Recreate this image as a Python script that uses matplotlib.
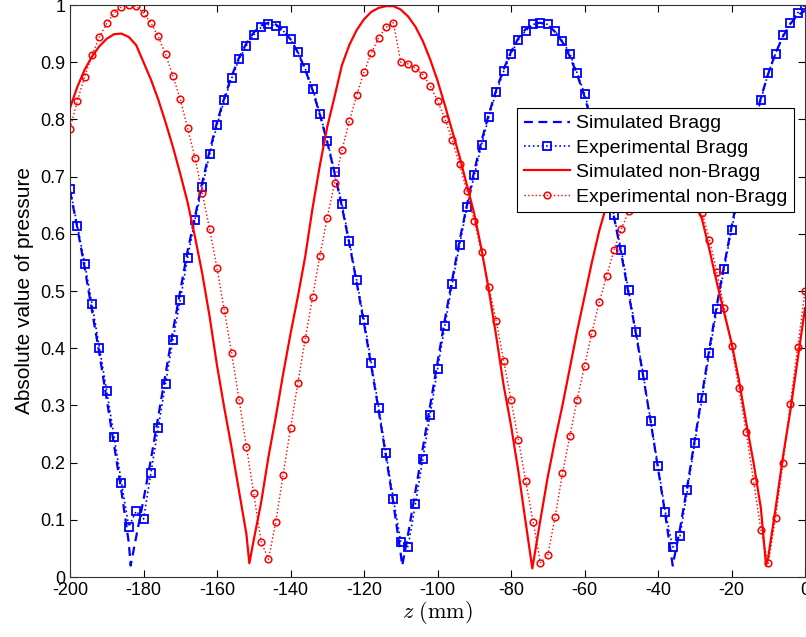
import matplotlib
matplotlib.use("Agg")
import matplotlib.pyplot as plt

plt.rcParams['font.family'] = ['Liberation Sans', 'DejaVu Sans']
plt.rcParams['mathtext.fontset'] = 'cm'
plt.rcParams['axes.unicode_minus'] = False

# measurement positions (mm)
z_exp = [-200, -198, -196, -194, -192, -190, -188, -186, -184, -182,
         -180, -178, -176, -174, -172, -170, -168, -166, -164, -162,
         -160, -158, -156, -154, -152, -150, -148, -146, -144, -142,
         -140, -138, -136, -134, -132, -130, -128, -126, -124, -122,
         -120, -118, -116, -114, -112, -110, -108, -106, -104, -102,
         -100, -98, -96, -94, -92, -90, -88, -86, -84, -82,
         -80, -78, -76, -74, -72, -70, -68, -66, -64, -62,
         -60, -58, -56, -54, -52, -50, -48, -46, -44, -42,
         -40, -38, -36, -34, -32, -30, -28, -26, -24, -22,
         -20, -18, -16, -14, -12, -10, -8, -6, -4, -2, 0]

exp_bragg = [0.679, 0.614, 0.548, 0.477, 0.401, 0.325, 0.245, 0.165, 0.088, 0.115,
             0.101, 0.181, 0.261, 0.338, 0.415, 0.484, 0.558, 0.624, 0.682, 0.739,
             0.790, 0.834, 0.872, 0.905, 0.929, 0.948, 0.961, 0.966, 0.964, 0.955,
             0.940, 0.918, 0.889, 0.854, 0.810, 0.763, 0.708, 0.652, 0.587, 0.519,
             0.450, 0.374, 0.296, 0.216, 0.136, 0.062, 0.053, 0.128, 0.206, 0.284,
             0.363, 0.439, 0.513, 0.580, 0.646, 0.702, 0.756, 0.805, 0.848, 0.884,
             0.915, 0.939, 0.955, 0.966, 0.969, 0.966, 0.954, 0.937, 0.915, 0.881,
             0.845, 0.800, 0.752, 0.695, 0.632, 0.571, 0.501, 0.429, 0.353, 0.273,
             0.194, 0.114, 0.052, 0.072, 0.152, 0.234, 0.313, 0.392, 0.468, 0.539,
             0.607, 0.670, 0.730, 0.785, 0.834, 0.881, 0.915, 0.947, 0.968, 0.986, 1.0]

exp_nonbragg = [0.784, 0.832, 0.875, 0.912, 0.944, 0.968, 0.986, 0.997, 1.0, 0.998,
                0.986, 0.969, 0.945, 0.914, 0.876, 0.835, 0.785, 0.733, 0.671, 0.608,
                0.540, 0.466, 0.391, 0.310, 0.228, 0.146, 0.062, 0.031, 0.096, 0.179,
                0.260, 0.339, 0.416, 0.489, 0.562, 0.628, 0.689, 0.746, 0.797, 0.842,
                0.883, 0.916, 0.943, 0.961, 0.969, 0.900, 0.897, 0.890, 0.878, 0.859,
                0.833, 0.801, 0.764, 0.722, 0.674, 0.623, 0.568, 0.507, 0.447, 0.378,
                0.310, 0.240, 0.168, 0.097, 0.025, 0.038, 0.105, 0.181, 0.246, 0.310,
                0.369, 0.427, 0.480, 0.526, 0.571, 0.608, 0.639, 0.680, 0.720, 0.750,
                0.770, 0.780, 0.770, 0.740, 0.710, 0.675, 0.637, 0.590, 0.533, 0.471,
                0.403, 0.331, 0.253, 0.168, 0.082, 0.024, 0.104, 0.200, 0.302, 0.402, 0.500]

z_sim_bragg = [-200, -198, -196, -194, -192, -190, -188, -186, -184, -183.5,
               -182, -180, -178, -176, -174, -172, -170, -168, -166, -164,
               -162, -160, -158, -156, -154, -152, -150, -148, -146, -144,
               -142, -140, -138, -136, -134, -132, -130, -128, -126, -124,
               -122, -120, -118, -116, -114, -112, -110, -109.6, -108, -106,
               -104, -102, -100, -98, -96, -94, -92, -90, -88, -86,
               -84, -82, -80, -78, -76, -74, -72, -70, -68, -66,
               -64, -62, -60, -58, -56, -54, -52, -50, -48, -46,
               -44, -42, -40, -38, -36, -34, -32, -30, -28, -26,
               -24, -22, -20, -18, -16, -14, -12, -10, -8, -6, -4, -2, 0]
sim_bragg = [0.675, 0.61, 0.54, 0.465, 0.39, 0.31, 0.23, 0.15, 0.06, 0.02,
             0.07, 0.135, 0.205, 0.28, 0.355, 0.43, 0.5, 0.57, 0.63, 0.69,
             0.745, 0.795, 0.838, 0.876, 0.908, 0.933, 0.952, 0.964, 0.969, 0.966,
             0.956, 0.94, 0.917, 0.887, 0.851, 0.808, 0.76, 0.706, 0.647, 0.583,
             0.515, 0.443, 0.368, 0.29, 0.21, 0.128, 0.04, 0.02, 0.075, 0.15,
             0.225, 0.3, 0.375, 0.45, 0.52, 0.588, 0.65, 0.71, 0.763, 0.81,
             0.852, 0.888, 0.918, 0.942, 0.958, 0.967, 0.969, 0.965, 0.953, 0.935,
             0.91, 0.878, 0.84, 0.795, 0.745, 0.69, 0.63, 0.565, 0.495, 0.425,
             0.35, 0.272, 0.19, 0.108, 0.02, 0.085, 0.16, 0.24, 0.32, 0.4,
             0.475, 0.545, 0.612, 0.675, 0.735, 0.79, 0.838, 0.88, 0.916, 0.945, 0.967, 0.982, 0.99]

z_sim_nonbragg = [-200, -198, -196, -194, -192, -190, -188, -186, -184, -182,
                  -180, -178, -176, -174, -172, -170, -168, -166, -164, -162,
                  -160, -158, -156, -154, -152, -151.2, -150, -148, -146, -144,
                  -142, -140, -138, -136, -134, -132, -130, -128, -126, -124,
                  -122, -120, -118, -116, -114, -112, -110, -108, -106, -104,
                  -102, -100, -98, -96, -94, -92, -90, -88, -86, -84,
                  -82, -80, -78, -76, -74.2, -72, -70, -68, -66, -64,
                  -62, -60, -58, -56, -54, -52, -50, -48, -46, -44,
                  -42, -40, -38, -36, -34, -32, -30, -28, -26, -24,
                  -22, -20, -18, -16, -14, -12, -10.6, -10, -8, -6, -4, -2, 0]
sim_nonbragg = [0.82, 0.857, 0.887, 0.91, 0.928, 0.941, 0.949, 0.95, 0.944, 0.93,
                0.9, 0.87, 0.835, 0.795, 0.752, 0.705, 0.655, 0.595, 0.53, 0.455,
                0.37, 0.295, 0.225, 0.15, 0.075, 0.024, 0.065, 0.13, 0.21, 0.28,
                0.355, 0.425, 0.49, 0.56, 0.645, 0.72, 0.787, 0.84, 0.895, 0.93,
                0.956, 0.975, 0.988, 0.995, 0.998, 0.998, 0.992, 0.98, 0.962, 0.937,
                0.905, 0.868, 0.825, 0.78, 0.735, 0.685, 0.635, 0.572, 0.5, 0.42,
                0.335, 0.265, 0.185, 0.095, 0.015, 0.1, 0.175, 0.24, 0.3, 0.365,
                0.43, 0.49, 0.55, 0.605, 0.65, 0.69, 0.725, 0.755, 0.775, 0.79,
                0.795, 0.79, 0.775, 0.755, 0.725, 0.69, 0.66, 0.625, 0.572, 0.515,
                0.462, 0.41, 0.345, 0.27, 0.2, 0.12, 0.02, 0.035, 0.12, 0.21, 0.29, 0.38, 0.47]

x_ticks = [-200, -180, -160, -140, -120, -100, -80, -60, -40, -20, 0]
y_ticks = [0, 0.1, 0.2, 0.3, 0.4, 0.5, 0.6, 0.7, 0.8, 0.9, 1]
y_tick_labels = ['0', '0.1', '0.2', '0.3', '0.4', '0.5', '0.6', '0.7', '0.8', '0.9', '1']

fig = plt.figure(figsize=(8.06, 6.37), dpi=100)
ax = fig.add_axes([70 / 806, 60 / 637, 735 / 806, 572 / 637])

ax.plot(z_sim_bragg, sim_bragg, color='blue', linestyle='--', dashes=(4, 2.5),
        linewidth=1.6, label='Simulated Bragg')
ax.plot(z_exp, exp_bragg, color='blue', linestyle=':', linewidth=1.2, marker='s',
        markersize=5.5, markerfacecolor='none', markeredgewidth=1.3,
        label='Experimental Bragg')
ax.plot(z_sim_nonbragg, sim_nonbragg, color='red', linestyle='-', linewidth=1.6,
        label='Simulated non-Bragg')
ax.plot(z_exp, exp_nonbragg, color='red', linestyle=':', linewidth=1.0, marker='o',
        markersize=4.8, markerfacecolor='none', markeredgewidth=1.1,
        label='Experimental non-Bragg')

ax.set_xlim(-200, 0)
ax.set_ylim(0, 1)
ax.set_xticks(x_ticks)
ax.set_xticklabels([str(t) for t in x_ticks])
ax.set_yticks(y_ticks)
ax.set_yticklabels(y_tick_labels)
ax.tick_params(direction='in', top=True, right=True, length=5, labelsize=13, width=0.8)
for s in ax.spines.values():
    s.set_linewidth(0.8)
    s.set_color('#333333')

ax.set_xlabel(r'$z\ \mathrm{(mm)}$', fontsize=16, labelpad=0)
ax.set_ylabel('Absolute value of pressure', fontsize=15, labelpad=4)

leg = ax.legend(loc='upper left', bbox_to_anchor=((517 - 70) / 735, (577 - 108) / 572),
                borderaxespad=0, fancybox=False, framealpha=1, edgecolor='black',
                fontsize=14, handlelength=2.4, handletextpad=0.3, labelspacing=0.35,
                borderpad=0.35)
leg.get_frame().set_linewidth(0.8)

fig.savefig('out.png', dpi=100)
